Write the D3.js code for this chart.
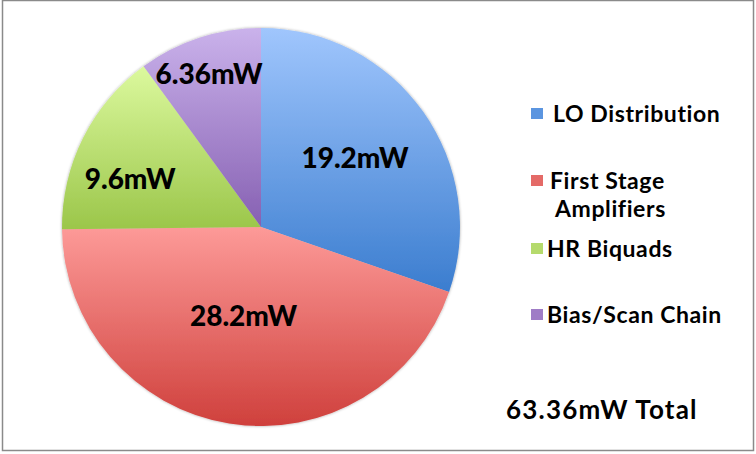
<!DOCTYPE html>
<html>
<head>
<meta charset="utf-8">
<script src="https://cdn.jsdelivr.net/npm/d3@7"></script>
<style>
  html, body { margin: 0; padding: 0; background: #fff; }
  svg { display: block; }
  text { font-family: "Lato", "Open Sans", sans-serif; font-weight: 700; fill: #000; }
</style>
</head>
<body>
<svg id="chart" width="756" height="454"></svg>
<script>
// ---- data ----
const categories = ["LO Distribution", "First Stage Amplifiers", "HR Biquads", "Bias/Scan Chain"];
const values = [19.2, 28.2, 9.6, 6.36];
const valueLabels = ["19.2mW", "28.2mW", "9.6mW", "6.36mW"];
const legendLines = [["LO Distribution"], ["First Stage", "Amplifiers"], ["HR Biquads"], ["Bias/Scan Chain"]];
const totalLabel = "63.36mW Total";

// ---- style ----
const gradTop = ["#a0c6fd", "#fd9a98", "#dcf99e", "#cab2eb"];
const gradBottom = ["#3b7dcf", "#cf403c", "#9bc64a", "#8660b2"];
const swatch = ["#5b95e0", "#e46a67", "#b5da6c", "#9f7cc6"];
const labelRadiusFrac = [0.586, 0.456, 0.70, 0.81];
const labelAngleShift = [-0.8, 1.9, -6.5, -0.7]; // degrees

const svg = d3.select("#chart");

// border
svg.append("rect")
  .attr("x", 2.5).attr("y", 0.5)
  .attr("width", 751).attr("height", 450)
  .attr("fill", "#fff")
  .attr("stroke", "#8a8a8a").attr("stroke-width", 1.5);

const defs = svg.append("defs");
categories.forEach((c, i) => {
  const g = defs.append("linearGradient")
    .attr("id", "g" + i)
    .attr("x1", 0).attr("y1", 0).attr("x2", 0).attr("y2", 1);
  g.append("stop").attr("offset", "0%").attr("stop-color", gradTop[i]);
  g.append("stop").attr("offset", "100%").attr("stop-color", gradBottom[i]);
});
const sh = defs.append("filter").attr("id", "soft")
  .attr("x", "-10%").attr("y", "-10%").attr("width", "120%").attr("height", "120%");
sh.append("feGaussianBlur").attr("in", "SourceAlpha").attr("stdDeviation", 1.5).attr("result", "b");
sh.append("feComponentTransfer").attr("in", "b").attr("result", "b2")
  .append("feFuncA").attr("type", "linear").attr("slope", 0.35);
const m = sh.append("feMerge");
m.append("feMergeNode").attr("in", "b2");
m.append("feMergeNode").attr("in", "SourceGraphic");

// pie
const cx = 261, cy = 227, R = 199;
const pie = d3.pie().sort(null).value(d => d)(values);
const arc = d3.arc().innerRadius(0).outerRadius(R);

const g = svg.append("g").attr("transform", `translate(${cx},${cy})`);
g.append("g").attr("filter", "url(#soft)")
  .selectAll("path").data(pie).join("path")
  .attr("d", arc)
  .attr("fill", (d, i) => `url(#g${i})`);

g.selectAll("text.val").data(pie).join("text")
  .attr("class", "val")
  .attr("transform", (d, i) => {
    const a = (d.startAngle + d.endAngle) / 2 + labelAngleShift[i] * Math.PI / 180;
    const r = labelRadiusFrac[i] * R;
    const la = d3.arc().innerRadius(r).outerRadius(r).startAngle(a).endAngle(a);
    const [x, y] = la.centroid();
    return `translate(${x},${y})`;
  })
  .attr("text-anchor", "middle")
  .attr("dy", "0.36em")
  .style("font-size", "28px")
  .style("font-weight", 900)
  .text((d, i) => valueLabels[i]);

// legend
const legendY = [108, 175, 243, 309];
const legendTextX = [553, 550, 547, 547];
const lg = svg.append("g");
legendLines.forEach((lines, i) => {
  lg.append("rect")
    .attr("x", 531).attr("y", legendY[i])
    .attr("width", 12).attr("height", 11)
    .attr("fill", swatch[i]);
  const t = lg.append("text")
    .attr("x", legendTextX[i]).attr("y", legendY[i] + 14)
    .style("font-size", "23px")
    .style("letter-spacing", "0.6px");
  lines.forEach((ln, j) => {
    t.append("tspan")
      .attr("x", legendTextX[i] + (j > 0 ? 5 : 0))
      .attr("dy", j === 0 ? 0 : 28)
      .text(ln);
  });
});

svg.append("text")
  .attr("x", 506).attr("y", 419)
  .style("font-size", "26px")
  .style("letter-spacing", "1.2px")
  .text(totalLabel);
</script>
</body>
</html>
